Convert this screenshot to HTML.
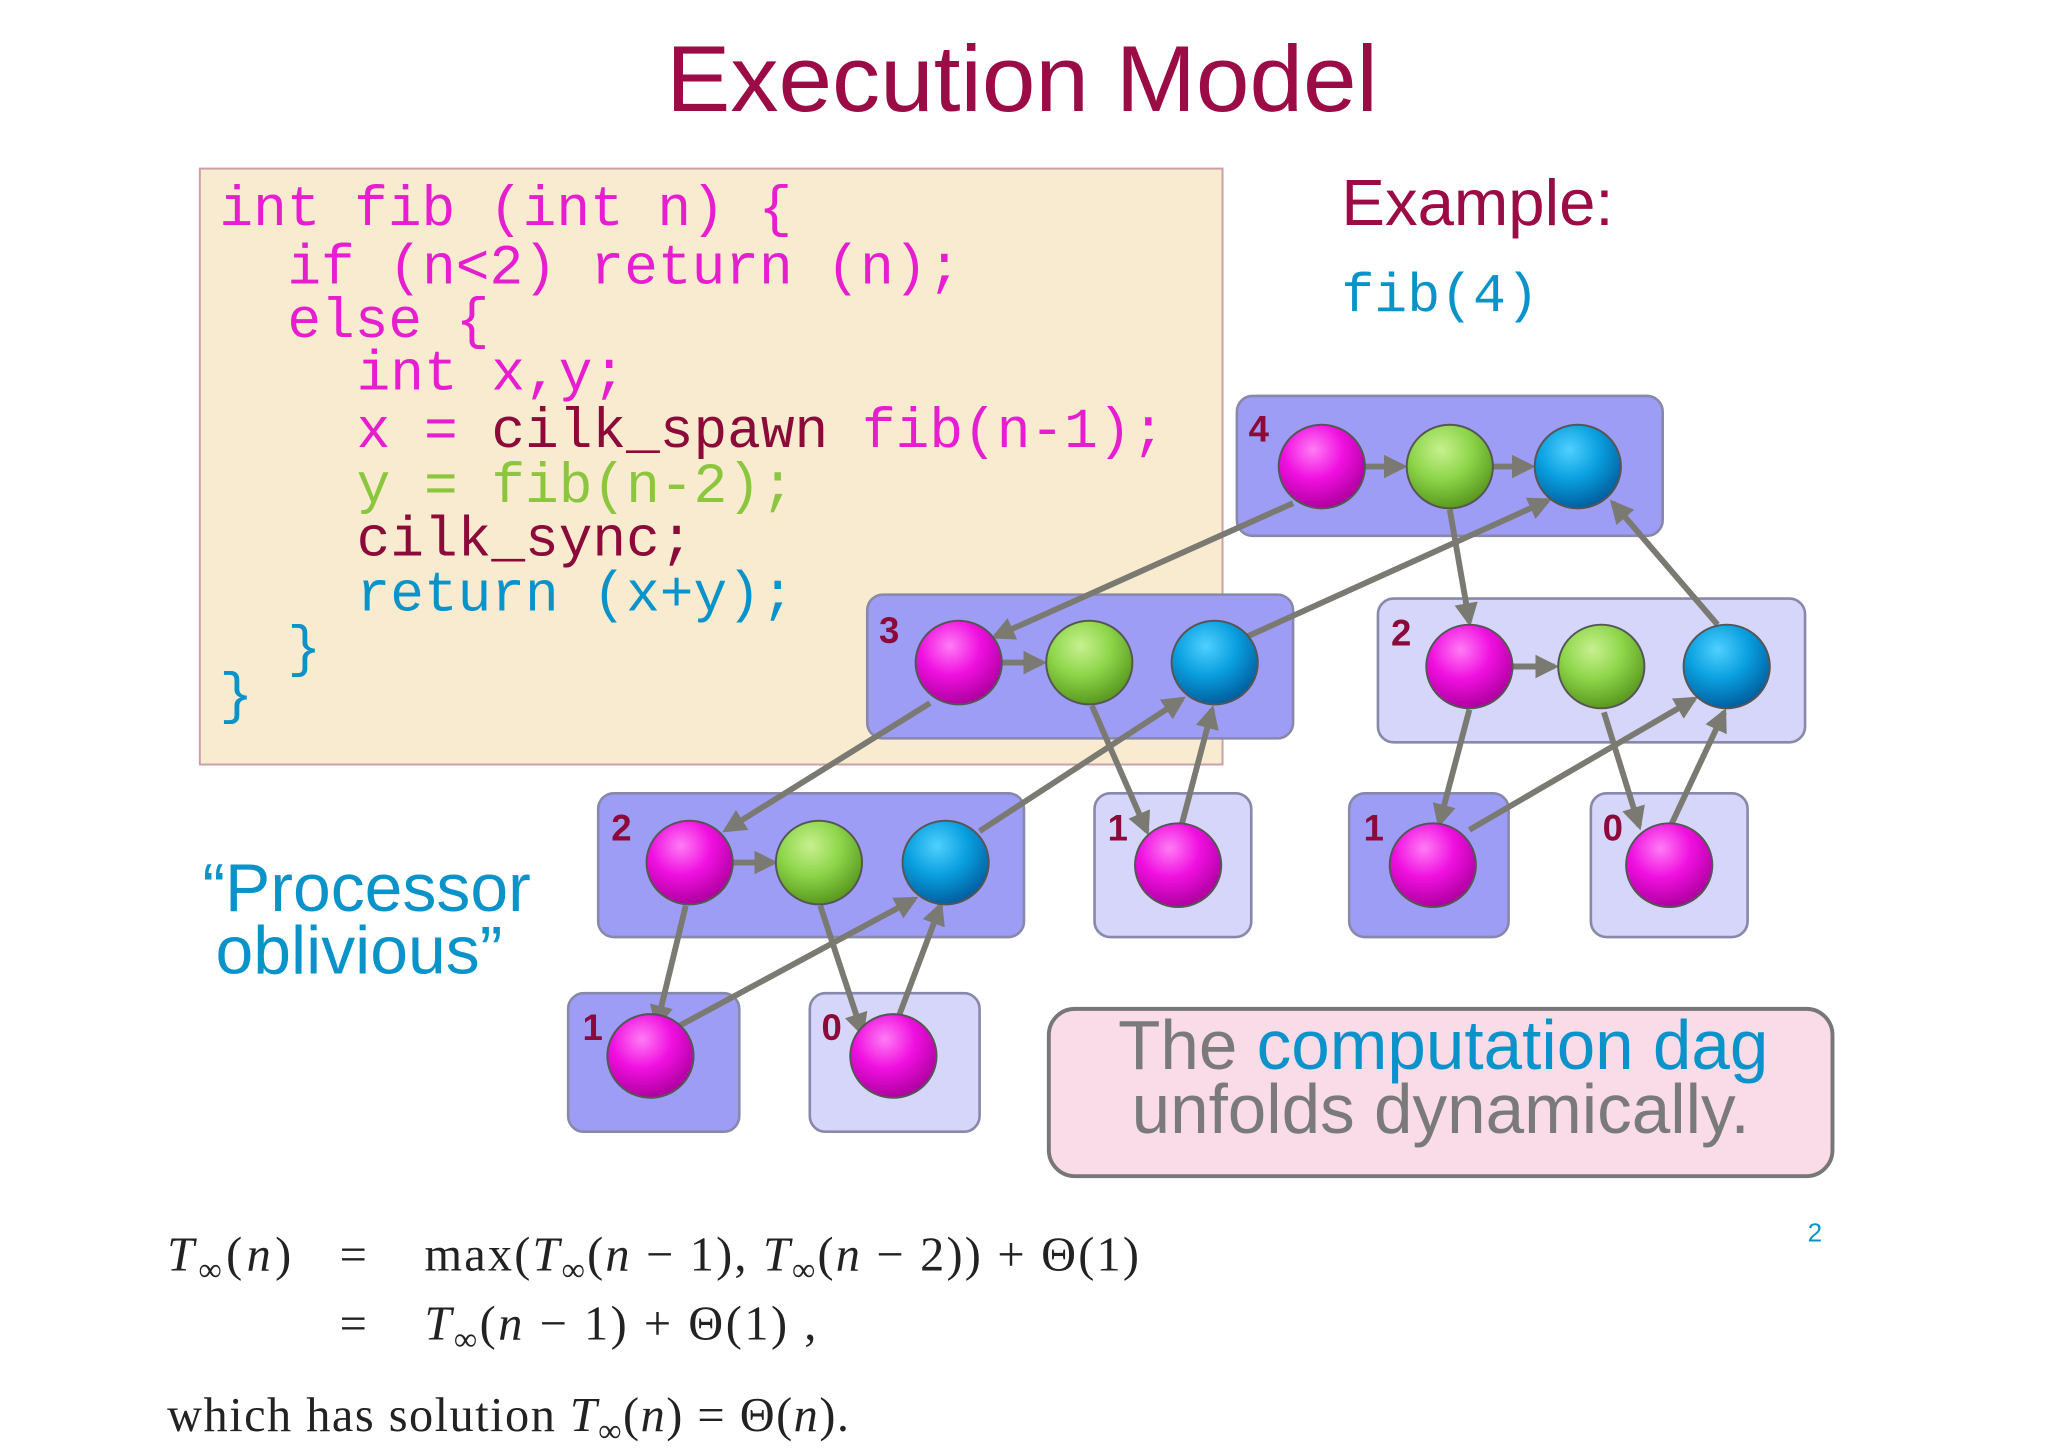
<!DOCTYPE html>
<html><head><meta charset="utf-8"><style>
html,body{margin:0;padding:0;background:#fff;}
svg{display:block;}
.code{font-family:"Liberation Mono",monospace;font-size:43px;}
.m{fill:#e61ecf}.c{fill:#8b0a3a}.g{fill:#8cc63f}.b{fill:#0a93c8}
.lbl{font-family:"Liberation Sans",sans-serif;font-weight:bold;font-size:28px;fill:#8b0a3a}
</style></head><body>
<svg width="2048" height="1448" viewBox="0 0 1568 1108" preserveAspectRatio="none" xmlns="http://www.w3.org/2000/svg">
<defs>
<radialGradient id="gm" cx="40%" cy="30%" r="70%"><stop offset="0" stop-color="#ff7cf5"/><stop offset="0.5" stop-color="#f010e0"/><stop offset="1" stop-color="#b000a0"/></radialGradient>
<radialGradient id="gg" cx="40%" cy="30%" r="70%"><stop offset="0" stop-color="#c8f090"/><stop offset="0.5" stop-color="#8ed64a"/><stop offset="1" stop-color="#5a9a20"/></radialGradient>
<radialGradient id="gb" cx="40%" cy="30%" r="70%"><stop offset="0" stop-color="#50d0ff"/><stop offset="0.5" stop-color="#0aa0e0"/><stop offset="1" stop-color="#0060a0"/></radialGradient>
<marker id="ah" viewBox="0 0 10 10" refX="8" refY="5" markerWidth="4" markerHeight="4" orient="auto"><path d="M0,0 L10,5 L0,10 z" fill="#7a7a72"/></marker>
</defs>
<text x="510" y="85" textLength="545" lengthAdjust="spacingAndGlyphs" font-family="Liberation Sans,sans-serif" font-size="72" fill="#9b0b45">Execution Model</text>
<rect x="153" y="129" width="783" height="456" fill="#f8ebd0" stroke="#c9a0a8" stroke-width="1.5"/>
<g class="code">
<text x="168" y="172" class="m">int fib (int n) {</text>
<text x="220" y="217" class="m">if (n&lt;2) return (n);</text>
<text x="220" y="258" class="m">else {</text>
<text x="273" y="298" class="m">int x,y;</text>
<text x="273" y="342"><tspan class="m">x = </tspan><tspan class="c">cilk_spawn</tspan><tspan class="m"> fib(n-1);</tspan></text>
<text x="273" y="384" class="g">y = fib(n-2);</text>
<text x="273" y="425" class="c">cilk_sync;</text>
<text x="273" y="467" class="b">return (x+y);</text>
<text x="220" y="509" class="b">}</text>
<text x="168" y="545" class="b">}</text>
</g>
<text x="1027" y="172" font-family="Liberation Sans,sans-serif" font-size="50" fill="#9b0b45">Example:</text>
<text x="1027" y="238" class="code b" style="font-size:42px">fib(4)</text>
<text x="155" y="697" font-family="Liberation Sans,sans-serif" font-size="52" fill="#0a93c8">“Processor</text>
<text x="165" y="745" font-family="Liberation Sans,sans-serif" font-size="52" fill="#0a93c8">oblivious”</text>
<g stroke="#8888aa" stroke-width="2">
<rect x="947" y="303" width="326" height="107" rx="12" fill="#9d9df5"/>
<rect x="664" y="455" width="326" height="110" rx="12" fill="#9d9df5"/>
<rect x="1055" y="458" width="327" height="110" rx="12" fill="#d6d6fb"/>
<rect x="458" y="607" width="326" height="110" rx="12" fill="#9d9df5"/>
<rect x="838" y="607" width="120" height="110" rx="12" fill="#d6d6fb"/>
<rect x="1033" y="607" width="122" height="110" rx="12" fill="#9d9df5"/>
<rect x="1218" y="607" width="120" height="110" rx="12" fill="#d6d6fb"/>
<rect x="435" y="760" width="131" height="106" rx="12" fill="#9d9df5"/>
<rect x="620" y="760" width="130" height="106" rx="12" fill="#d6d6fb"/>
</g>
<g class="lbl">
<text x="956" y="338">4</text><text x="673" y="492">3</text><text x="1065" y="494">2</text>
<text x="468" y="643">2</text><text x="848" y="643">1</text><text x="1044" y="643">1</text>
<text x="1227" y="643">0</text><text x="446" y="796">1</text><text x="629" y="796">0</text>
</g>
<g stroke="#7a7a72" stroke-width="4.5" fill="none" marker-end="url(#ah)">
<line x1="1045" y1="357" x2="1074" y2="357"/><line x1="1143" y1="357" x2="1172" y2="357"/>
<line x1="767" y1="507" x2="798" y2="507"/><line x1="1158" y1="510" x2="1190" y2="510"/>
<line x1="561" y1="660" x2="592" y2="660"/>
<line x1="990" y1="385" x2="762" y2="487"/>
<line x1="1110" y1="390" x2="1125" y2="476"/>
<line x1="955" y1="487" x2="1185" y2="383"/>
<line x1="1315" y1="478" x2="1235" y2="385"/>
<line x1="712" y1="538" x2="556" y2="635"/>
<line x1="836" y1="540" x2="878" y2="636"/>
<line x1="905" y1="630" x2="928" y2="543"/>
<line x1="750" y1="636" x2="905" y2="535"/>
<line x1="1125" y1="543" x2="1102" y2="630"/>
<line x1="1125" y1="635" x2="1297" y2="535"/>
<line x1="1228" y1="545" x2="1255" y2="632"/>
<line x1="1280" y1="630" x2="1320" y2="545"/>
<line x1="525" y1="693" x2="503" y2="784"/>
<line x1="520" y1="785" x2="700" y2="688"/>
<line x1="628" y1="693" x2="660" y2="790"/>
<line x1="688" y1="778" x2="720" y2="693"/>
</g>
<g stroke="#555" stroke-width="1.5">
<ellipse cx="1012" cy="357" rx="33" ry="32" fill="url(#gm)"/><ellipse cx="1110" cy="357" rx="33" ry="32" fill="url(#gg)"/><ellipse cx="1208" cy="357" rx="33" ry="32" fill="url(#gb)"/>
<ellipse cx="734" cy="507" rx="33" ry="32" fill="url(#gm)"/><ellipse cx="834" cy="507" rx="33" ry="32" fill="url(#gg)"/><ellipse cx="930" cy="507" rx="33" ry="32" fill="url(#gb)"/>
<ellipse cx="1125" cy="510" rx="33" ry="32" fill="url(#gm)"/><ellipse cx="1226" cy="510" rx="33" ry="32" fill="url(#gg)"/><ellipse cx="1322" cy="510" rx="33" ry="32" fill="url(#gb)"/>
<ellipse cx="528" cy="660" rx="33" ry="32" fill="url(#gm)"/><ellipse cx="627" cy="660" rx="33" ry="32" fill="url(#gg)"/><ellipse cx="724" cy="660" rx="33" ry="32" fill="url(#gb)"/>
<ellipse cx="902" cy="662" rx="33" ry="32" fill="url(#gm)"/><ellipse cx="1097" cy="662" rx="33" ry="32" fill="url(#gm)"/><ellipse cx="1278" cy="662" rx="33" ry="32" fill="url(#gm)"/>
<ellipse cx="498" cy="808" rx="33" ry="32" fill="url(#gm)"/><ellipse cx="684" cy="808" rx="33" ry="32" fill="url(#gm)"/>
</g>
<rect x="803" y="772" width="600" height="128" rx="20" fill="#fadbe8" stroke="#777" stroke-width="3"/>
<text x="1105" y="818" text-anchor="middle" font-family="Liberation Sans,sans-serif" font-size="53"><tspan fill="#7a7a7a">The </tspan><tspan fill="#0a93c8">computation dag</tspan></text>
<text x="1103" y="867" text-anchor="middle" font-family="Liberation Sans,sans-serif" font-size="53" fill="#7a7a7a">unfolds dynamically.</text>
<text x="1384" y="950" font-family="Liberation Sans,sans-serif" font-size="20" fill="#0a93c8">2</text>
<g font-family="Liberation Serif,serif" font-size="37" fill="#222">
<text x="128" y="972" textLength="95" lengthAdjust="spacing"><tspan font-style="italic">T</tspan><tspan font-size="25" dy="8">∞</tspan><tspan dy="-8">(</tspan><tspan font-style="italic">n</tspan>)</text>
<text x="260" y="972">=</text>
<text x="325" y="972" textLength="547" lengthAdjust="spacing">max(<tspan font-style="italic">T</tspan><tspan font-size="25" dy="8">∞</tspan><tspan dy="-8">(</tspan><tspan font-style="italic">n</tspan> − 1), <tspan font-style="italic">T</tspan><tspan font-size="25" dy="8">∞</tspan><tspan dy="-8">(</tspan><tspan font-style="italic">n</tspan> − 2)) + Θ(1)</text>
<text x="260" y="1025">=</text>
<text x="325" y="1025" textLength="300" lengthAdjust="spacing"><tspan font-style="italic">T</tspan><tspan font-size="25" dy="8">∞</tspan><tspan dy="-8">(</tspan><tspan font-style="italic">n</tspan> − 1) + Θ(1) ,</text>
<text x="128" y="1095" textLength="522" lengthAdjust="spacing">which has solution <tspan font-style="italic">T</tspan><tspan font-size="25" dy="8">∞</tspan><tspan dy="-8">(</tspan><tspan font-style="italic">n</tspan>) = Θ(<tspan font-style="italic">n</tspan>).</text>
</g>
</svg>
</body></html>
